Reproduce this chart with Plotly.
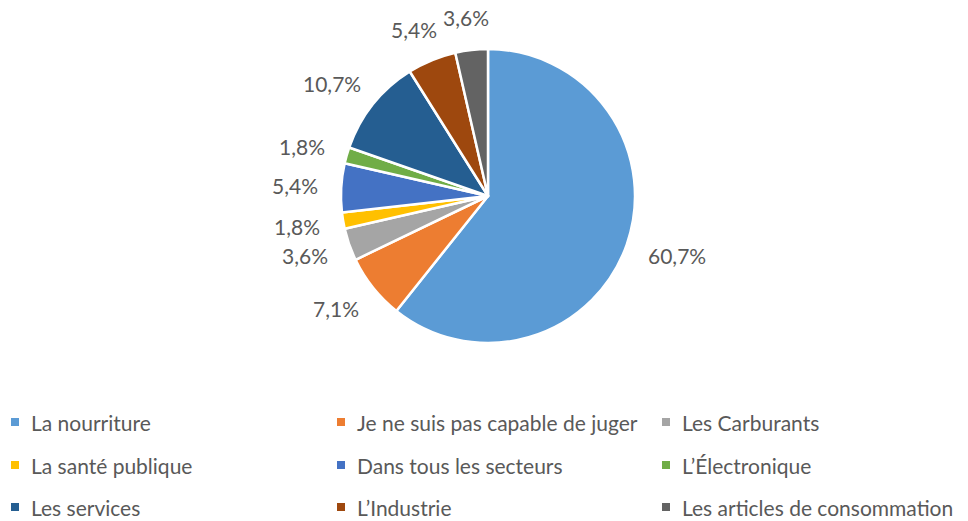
import math
import plotly.graph_objects as go

labels = ["La nourriture", "Je ne suis pas capable de juger", "Les Carburants",
          "La santé publique", "Dans tous les secteurs", "L’Électronique",
          "Les services", "L’Industrie", "Les articles de consommation"]
counts = [34, 4, 2, 1, 3, 1, 6, 3, 2]
colors = ["#5B9BD5", "#ED7D31", "#A5A5A5", "#FFC000", "#4472C4",
          "#70AD47", "#255E91", "#9E480E", "#636363"]

W, H = 968, 521
FONT = "Lato"
TXT = "#595959"
FS = 21

# pie geometry (pixels)
CX, CY, R = 488, 196, 147

fig = go.Figure()
fig.add_trace(go.Pie(
    labels=labels, values=counts, sort=False, direction="clockwise", rotation=0,
    marker=dict(colors=colors, line=dict(color="white", width=2.5)),
    textinfo="none",
    domain=dict(x=[(CX - R) / W, (CX + R) / W], y=[(H - CY - R) / H, (H - CY + R) / H]),
    showlegend=False, hoverinfo="label+percent",
))

annotations, shapes = [], []

# data labels placed outside each slice, derived from the values
total = sum(counts)
cum = 0
for v in counts:
    frac = v / total
    mid = (cum + frac / 2) * 2 * math.pi
    cum += frac
    txt = f"{frac * 100:.1f}%".replace(".", ",")
    dx, dy = math.sin(mid), -math.cos(mid)
    w, h = 12.4 * len(txt), 22
    px = CX + dx * (R + 22) + dx * w / 2
    py = CY + dy * (R + 22) + dy * h / 2
    annotations.append(dict(xref="paper", yref="paper", x=px / W, y=(H - py) / H,
                            text=txt, showarrow=False, xanchor="center", yanchor="middle",
                            font=dict(family=FONT, size=FS, color=TXT)))

# legend in 3 columns x 3 rows
col_x = [15, 341, 666]
row_y = [422, 465, 507]
for i, (lab, col) in enumerate(zip(labels, colors)):
    cx = col_x[i % 3]
    cy = row_y[i // 3]
    shapes.append(dict(type="rect", xref="paper", yref="paper",
                       x0=(cx - 4) / W, x1=(cx + 4) / W,
                       y0=(H - cy - 4) / H, y1=(H - cy + 4) / H,
                       fillcolor=col, line=dict(width=0)))
    annotations.append(dict(xref="paper", yref="paper", x=(cx + 14) / W, y=(H - cy) / H,
                            text=lab, showarrow=False, xanchor="left", yanchor="middle",
                            font=dict(family=FONT, size=FS, color=TXT)))

fig.update_layout(
    width=W, height=H, margin=dict(l=0, r=0, t=0, b=0),
    paper_bgcolor="white", plot_bgcolor="white",
    shapes=shapes, annotations=annotations,
)
fig.write_html("out.html", config={"displayModeBar": False},
               post_script="document.body.style.margin='0';")
